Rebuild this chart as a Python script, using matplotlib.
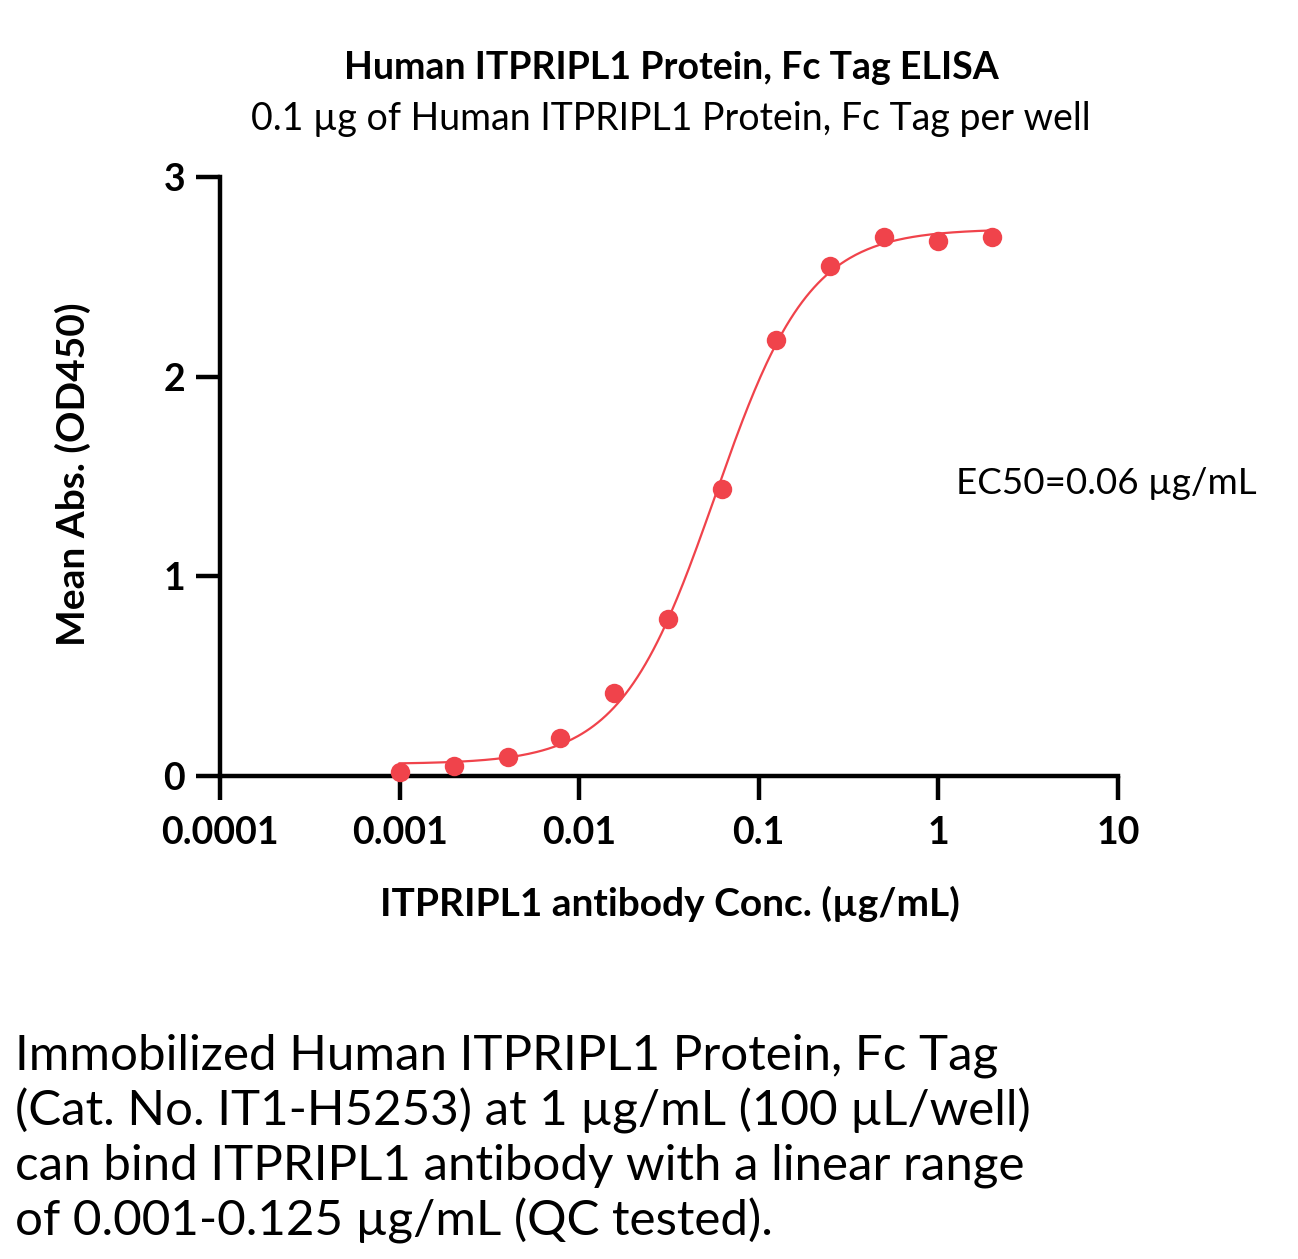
import numpy as np
import matplotlib
matplotlib.use('Agg')
import matplotlib.pyplot as plt

plt.rcParams['font.family'] = ['Lato', 'DejaVu Sans']

# 데이터
conc = [0.001, 0.002, 0.004, 0.0078, 0.0156, 0.03125, 0.0625, 0.125, 0.25, 0.5, 1, 2]
od450 = [0.02, 0.05, 0.095, 0.19, 0.415, 0.785, 1.435, 2.185, 2.555, 2.70, 2.68, 2.70]
x_ticks = [0.0001, 0.001, 0.01, 0.1, 1, 10]
x_tick_labels = ['0.0001', '0.001', '0.01', '0.1', '1', '10']
y_ticks = [0, 1, 2, 3]

# 4PL 곡선 파라미터
bottom, top, ec50, hill = 0.06, 2.74, 0.057, 1.65

W, H = 1298, 1259
fig = plt.figure(figsize=(W / 100, H / 100), dpi=100)

def fx(px):
    return px / W

def fy(py):
    return 1 - py / H

ax = fig.add_axes([fx(220), fy(776), fx(1118) - fx(220), fy(177) - fy(776)])

red = '#f0434b'
xs = np.logspace(np.log10(conc[0]), np.log10(conc[-1]), 300)
ys = bottom + (top - bottom) / (1 + (ec50 / xs) ** hill)
ax.plot(xs, ys, color=red, lw=1.6, zorder=2)
ax.plot(conc, od450, 'o', color=red, ms=14, mec='none', zorder=3, clip_on=False)

ax.set_xscale('log')
ax.set_xlim(1e-4, 10)
ax.set_ylim(0, 3)
ax.set_xticks(x_ticks)
ax.set_xticklabels(x_tick_labels)
ax.xaxis.set_minor_locator(matplotlib.ticker.NullLocator())
ax.set_yticks(y_ticks)

for s in ['top', 'right']:
    ax.spines[s].set_visible(False)
for s in ['left', 'bottom']:
    ax.spines[s].set_linewidth(3.2)
ax.tick_params(axis='both', direction='out', length=17, width=3.2, labelsize=27)
ax.tick_params(axis='x', pad=12)
ax.tick_params(axis='y', pad=8)
for lab in ax.get_xticklabels() + ax.get_yticklabels():
    lab.set_fontweight('bold')

# 제목 / 라벨
fig.text(fx(671), fy(68), 'Human ITPRIPL1 Protein, Fc Tag ELISA', ha='center', va='center',
         fontsize=27, fontweight='bold')
fig.text(fx(671), fy(119), '0.1 µg of Human ITPRIPL1 Protein, Fc Tag per well', ha='center',
         va='center', fontsize=27)
fig.text(fx(73), fy(474), 'Mean Abs. (OD450)', ha='center', va='center', rotation=90,
         fontsize=28, fontweight='bold')
fig.text(fx(670), fy(904), 'ITPRIPL1 antibody Conc. (µg/mL)', ha='center', va='center',
         fontsize=28, fontweight='bold')
fig.text(fx(956), fy(483), 'EC50=0.06 µg/mL', ha='left', va='center', fontsize=26.5)

caption = ['Immobilized Human ITPRIPL1 Protein, Fc Tag',
           '(Cat. No. IT1-H5253) at 1 µg/mL (100 µL/well)',
           'can bind ITPRIPL1 antibody with a linear range',
           'of 0.001-0.125 µg/mL (QC tested).']
for i, line in enumerate(caption):
    fig.text(fx(15), fy(1056 + i * 55), line, ha='left', va='center', fontsize=35.5)

fig.savefig('out.png', dpi=100, facecolor='white')
